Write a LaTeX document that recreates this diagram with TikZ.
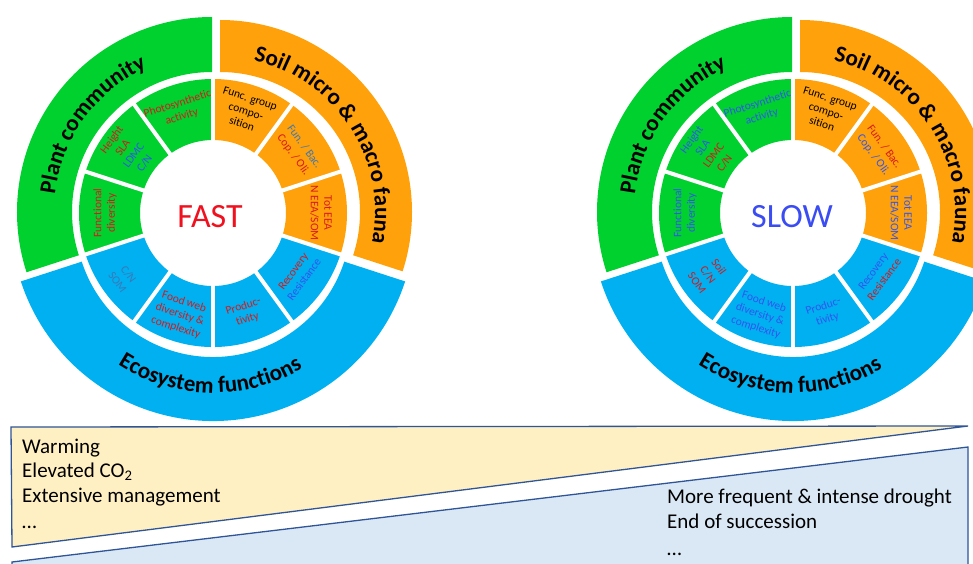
\documentclass[tikz,border=0pt]{standalone}
\usepackage{fontspec}
\setmainfont{Carlito}[Ligatures=NoCommon]
\usetikzlibrary{decorations.text}

\definecolor{plantgreen}{HTML}{00D12F}
\definecolor{soilorange}{HTML}{FFA10A}
\definecolor{ecoblue}{HTML}{00B0F0}
\definecolor{labred}{HTML}{D7191C}
\definecolor{labblue}{HTML}{3355EE}
\definecolor{steelblue}{HTML}{3C78B8}
\definecolor{fastred}{HTML}{F0101E}
\definecolor{slowblue}{HTML}{3A4CF2}
\definecolor{boxline}{HTML}{2F5597}
\definecolor{warmfill}{HTML}{FFF0C4}
\definecolor{dryfill}{HTML}{DAE8F6}

\newcommand{\titlefont}{\fontsize{23}{27}\selectfont\bfseries}
% color, start angle, end angle, inner radius, outer radius
\newcommand{\ringpart}[5]{\fill[#1] (#2:#4) arc[start angle=#2, end angle=#3, radius=#4] -- (#3:#5) arc[start angle=#3, end angle=#2, radius=#5] -- cycle;}
\newcommand{\wheelbase}{%
  % inner ring
  \ringpart{plantgreen}{90}{198}{73}{134}
  \ringpart{ecoblue}{198}{342}{73}{134}
  \ringpart{soilorange}{-18}{90}{73}{134}
  \foreach \a in {90,126,...,414} \draw[white, line width=4pt] (\a:70) -- (\a:137);
  % outer ring, pulled apart a little
  \begin{scope}[shift={(-1,1)}]
    \ringpart{plantgreen}{90}{198}{140}{195}
    \path[decorate, decoration={text along path, text align=center, text={|\titlefont|Plant community}}] (204:158) arc[start angle=204, end angle=84, radius=158];
  \end{scope}
  \begin{scope}[shift={(7,1)}]
    \ringpart{soilorange}{-18}{90}{140}{192}
    \path[decorate, decoration={text along path, text align=center, text={|\titlefont|Soil micro {\&} macro fauna}}] (93:155) arc[start angle=93, end angle=-27, radius=155];
  \end{scope}
  \begin{scope}[shift={(0,-6)}]
    \ringpart{ecoblue}{198}{342}{138}{202}
    \path[decorate, decoration={text along path, text align=center, text={|\titlefont|Ecosystem functions}}] (209:174) arc[start angle=209, end angle=329, radius=174];
  \end{scope}
}

\begin{document}
\begin{tikzpicture}[x=1pt, y=1pt]
\tikzset{seglab/.style={align=center, inner sep=0pt, font=\fontsize{11.5}{13.5}\selectfont},
  speed/.style={inner sep=0pt, font=\fontsize{34}{40}\selectfont},
  cause/.style={anchor=base west, inner sep=0pt, font=\fontsize{21}{25}\selectfont},
  wedgebox/.style={draw=boxline, line width=1.3pt}}
\useasboundingbox (0,0) rectangle (973,563);
\clip (0,0) rectangle (973,563);

% FAST wheel
\begin{scope}[shift={(213,350)}]
\wheelbase
\node[speed, text=fastred] (fast) at (-3,-4) {FAST};
\node[seglab, rotate=18, text=labred] (fphoto) at (108:108) {Photosynthetic\\activity};
\node[seglab, rotate=54] (ftraits) at (144:105) {\textcolor{labred}{Height}\\\textcolor{labred}{SLA}\\\textcolor{labblue}{LDMC}\\\textcolor{labblue}{C/N}};
\node[seglab, rotate=90, text=labred] (fdiv) at (180:108) {Functional\\diversity};
\node[seglab, rotate=-54, text=steelblue] (fsoilcn) at (216:111) {C/N\\SOM};
\node[seglab, rotate=-18, text=labred] (ffood) at (252:107) {Food web\\diversity \&\\complexity};
\node[seglab, rotate=18, text=labred] (fprod) at (288:105) {Produc-\\tivity};
\node[seglab, rotate=54] (frecov) at (324:106) {\textcolor{labred}{Recovery}\\\textcolor{labblue}{Resistance}};
\node[seglab, rotate=-90, text=labred] (feea) at (0:108) {Tot EEA\\N EEA/SOM};
\node[seglab, rotate=-54] (fratio) at (36:106) {\textcolor{steelblue}{Fun. / Bac.}\\\textcolor{labred}{Cop. / Oli.}};
\node[seglab, rotate=-18] (fgroup) at (72:107) {Func. group\\compo-\\sition};
\end{scope}

% SLOW wheel
\begin{scope}[shift={(793,350)}]
\wheelbase
\node[speed, text=slowblue] (slow) at (-1,-4) {SLOW};
\node[seglab, rotate=18, text=labblue] (sphoto) at (108:108) {Photosynthetic\\activity};
\node[seglab, rotate=54] (straits) at (144:105) {\textcolor{labblue}{Height}\\\textcolor{labblue}{SLA}\\\textcolor{labred}{LDMC}\\\textcolor{labred}{C/N}};
\node[seglab, rotate=90, text=labblue] (sdiv) at (180:108) {Functional\\diversity};
\node[seglab, rotate=-54, text=labred] (ssoilcn) at (216:105) {Soil\\C/N\\SOM};
\node[seglab, rotate=-18, text=labblue] (sfood) at (252:107) {Food web\\diversity \&\\complexity};
\node[seglab, rotate=18, text=labblue] (sprod) at (288:105) {Produc-\\tivity};
\node[seglab, rotate=54] (srecov) at (324:106) {\textcolor{labblue}{Recovery}\\\textcolor{labred}{Resistance}};
\node[seglab, rotate=-90, text=labblue] (seea) at (0:108) {Tot EEA\\N EEA/SOM};
\node[seglab, rotate=-54] (sratio) at (36:106) {\textcolor{labred}{Fun. / Bac.}\\\textcolor{labblue}{Cop. / Oli.}};
\node[seglab, rotate=-18] (sgroup) at (72:107) {Func. group\\compo-\\sition};
\end{scope}

% drivers
\draw[wedgebox, fill=warmfill] (11,136) -- (968,137) -- (12,16) -- cycle;
\draw[wedgebox, fill=dryfill] (12,1) -- (968,116) -- (968,-3) -- (12,-3) -- cycle;
\node[cause] (warm) at (22,110) {Warming};
\node[cause] (co2) at (22,86) {Elevated CO\textsubscript{2}};
\node[cause] (manage) at (22,61) {Extensive management};
\node[cause] (wdots) at (22,35) {…};
\node[cause] (drought) at (667,60) {More frequent \& intense drought};
\node[cause] (succ) at (667,35) {End of succession};
\node[cause] (ddots) at (667,8) {…};
\end{tikzpicture}
\end{document}
